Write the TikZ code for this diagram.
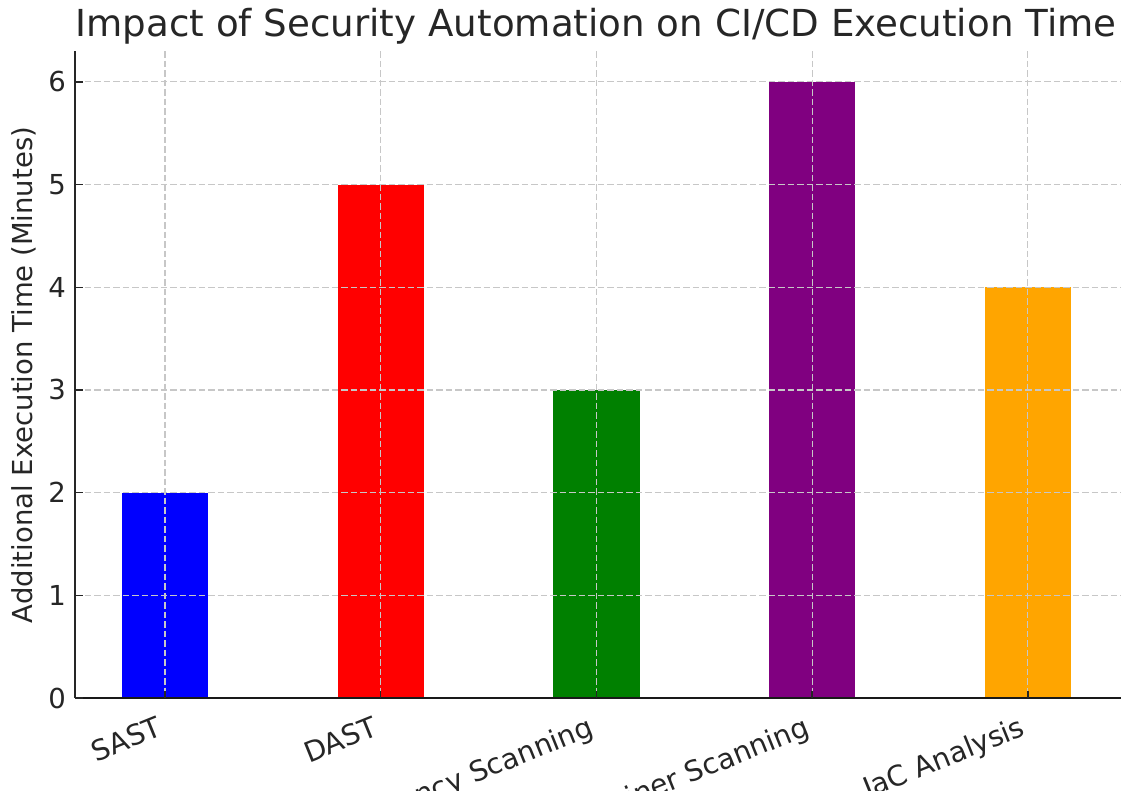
\documentclass[tikz,border=0pt]{standalone}
\usepackage{fontspec}
\setmainfont{DejaVu Sans}
\definecolor{mblue}{HTML}{0000FF}
\definecolor{mred}{HTML}{FF0000}
\definecolor{mgreen}{HTML}{008000}
\definecolor{mpurple}{HTML}{800080}
\definecolor{morange}{HTML}{FFA500}
\definecolor{txtc}{HTML}{262626}
\begin{document}
\begin{tikzpicture}[x=1pt,y=-1pt,
  txt/.style={text=txtc, inner sep=0pt},
  ticklbl/.style={txt, font=\fontsize{27.5}{33}\selectfont},
  xlbl/.style={txt, font=\fontsize{28.3}{34}\selectfont, rotate=22, anchor=south east, text height=0.76em, text depth=0.24em},
  gridline/.style={draw=black!22, line width=1.2pt, dash pattern=on 6.5pt off 3pt},
  spine/.style={draw=txtc, line width=1.6pt},
  tickmark/.style={draw=txtc, line width=1.4pt}]
\useasboundingbox (0,0) rectangle (1121,790);
\clip (0,0) rectangle (1121,790);
% bars
\foreach \i/\v/\c in {0/2/mblue,1/5/mred,2/3/mgreen,3/6/mpurple,4/4/morange}{
  \fill[\c] ({165+215.7*\i-43.15},698) rectangle ({165+215.7*\i+43.15},{698-102.7*\v});
}
% grid
\foreach \v in {1,...,6}{
  \draw[gridline] (75,{698-102.7*\v}) -- (1121,{698-102.7*\v});
}
\foreach \i in {0,...,4}{
  \draw[gridline] ({165+215.7*\i},51) -- ({165+215.7*\i},698);
}
% spines
\coordinate (o) at (75,698);
\coordinate (top) at (75,51);
\coordinate (right) at (1121,698);
\draw[spine] (top) -- (o);
\draw[spine, line width=2.4pt, draw=black!90] (o) -- (right);
% y ticks and labels
\foreach \v in {0,...,6}{
  \draw[tickmark] (75,{698-102.7*\v}) -- (83,{698-102.7*\v});
  \node[ticklbl, anchor=east] (yt\v) at (66,{698-102.7*\v}) {\v};
}
% x ticks and labels
\foreach \i/\t in {0/SAST,1/DAST,2/Dependency Scanning,3/Container Scanning,4/IaC Analysis}{
  \draw[tickmark] ({165+215.7*\i},698) -- ({165+215.7*\i},691);
  \node[xlbl] (xt\i) at ({165+215.7*\i},737) {\t};
}
% axis label and title
\node[ticklbl, rotate=90] (ylab) at (24,375) {Additional Execution Time (Minutes)};
\node[txt, font=\fontsize{37.2}{44}\selectfont, anchor=base] (title) at (596,36) {Impact of Security Automation on CI/CD Execution Time};
\end{tikzpicture}
\end{document}
